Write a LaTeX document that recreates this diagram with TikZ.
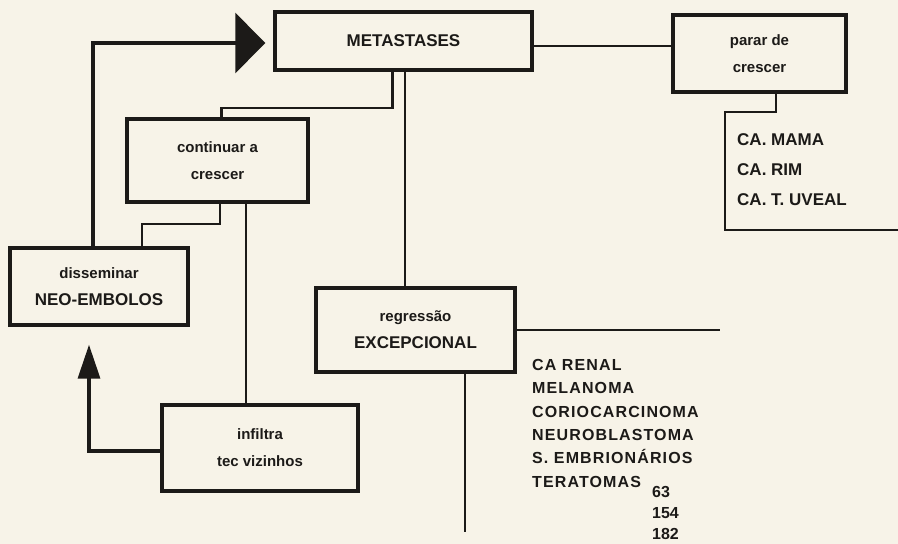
\documentclass[tikz,border=0pt]{standalone}
\usepackage{fontspec}
\setmainfont{Liberation Sans}
\newfontfamily\widefont[LetterSpace=7]{Liberation Sans}
\usetikzlibrary{arrows.meta}

\definecolor{paper}{RGB}{247,243,232}
\definecolor{ink}{RGB}{28,26,24}

\newcommand{\lowf}{\fontsize{15}{27}\selectfont\bfseries}
\newcommand{\capf}{\fontsize{17}{25}\selectfont\bfseries}

\begin{document}
\begin{tikzpicture}[x=1pt,y=-1pt,
    box/.style={draw=ink, line width=3.4pt, align=center, inner sep=0pt, text=ink},
    link/.style={draw=ink, line width=2.2pt},
    bigarrow/.style={draw=ink, line width=3.4pt}]

    % Paper and picture size
    \fill[paper] (0,0) rectangle (898,544);
    \useasboundingbox (0,0) rectangle (898,544);

    % Boxes
    \node[box, minimum width=257, minimum height=58, font=\capf] (meta) at (403.5,41) {METASTASES};
    \node[box, minimum width=173, minimum height=77, font=\lowf] (parar) at (759.5,53.5) {parar de\\crescer};
    \node[box, minimum width=181, minimum height=83, font=\lowf] (cont) at (217.5,160.5) {continuar a\\crescer};
    \node[box, minimum width=178, minimum height=77, font=\lowf] (diss) at (99,286.5) {disseminar\\\capf NEO-EMBOLOS};
    \node[box, minimum width=199, minimum height=84, font=\lowf] (regr) at (415.5,330) {regressão\\\capf EXCEPCIONAL};
    \node[box, minimum width=196, minimum height=86, font=\lowf] (infil) at (260,448) {infiltra\\tec vizinhos};

    % Free ends of the lines
    \coordinate (rend) at (720,330);
    \coordinate (rbot) at (465,532);
    \coordinate (pend) at (898,230);

    % Lines out of METASTASES
    \draw[link] ([yshift=-5pt]meta.east) -- ([yshift=-5pt]meta.east -| parar.west);
    \draw[link] ([xshift=-11pt]meta.south) -- ++(0,36) -| ([xshift=4pt]cont.north);
    \draw[link] ([xshift=1.5pt]meta.south) -- ([xshift=1.5pt]meta.south |- regr.north);

    % Lines out of continuar a crescer
    \draw[link] ([xshift=2.5pt]cont.south) -- ++(0,20) -| ([xshift=43pt]diss.north);
    \draw[link] ([xshift=28.5pt]cont.south) -- ([xshift=28.5pt]cont.south |- infil.north);

    % Arrows back up
    \draw[bigarrow, -{Triangle[length=30pt,width=60pt]}, shorten >=8pt]
        ([xshift=-6pt]diss.north) |- ([yshift=-2pt]meta.west);
    \draw[bigarrow, -{Triangle[length=34pt,width=22pt]}, shorten >=18pt]
        ([yshift=-3pt]infil.west) -| ([xshift=-10pt]diss.south);

    % Lines out of regressão
    \draw[link] (regr.east |- rend) -- (rend);
    \draw[link] (rbot |- regr.south) -- (rbot);

    % Bracket under parar de crescer
    \draw[link] ([xshift=16.5pt]parar.south) |- (725,112) |- (pend);

    % Lists
    \node[anchor=north west, align=left, inner sep=0pt, text=ink, font=\fontsize{17}{30}\selectfont\bfseries] (plist) at (737,133)
        {CA. MAMA\\CA. RIM\\CA. T. UVEAL};
    \node[anchor=north west, align=left, inner sep=0pt, text=ink, font=\widefont\fontsize{16}{23.4}\selectfont\bfseries] (rlist) at (532,359)
        {CA RENAL\\MELANOMA\\CORIOCARCINOMA\\NEUROBLASTOMA\\S. EMBRIONÁRIOS\\TERATOMAS};
    \node[anchor=north west, align=left, inner sep=0pt, text=ink, font=\fontsize{16}{21}\selectfont\bfseries] (nums) at (652,486)
        {63\\154\\182};

\end{tikzpicture}
\end{document}
